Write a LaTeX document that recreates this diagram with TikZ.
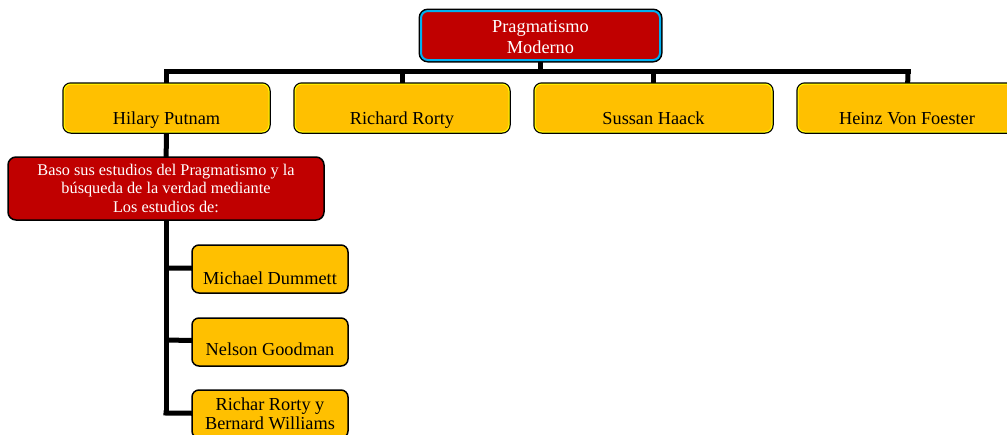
\documentclass[tikz,border=0pt]{standalone}
\usepackage{fontspec}
\setmainfont{Liberation Serif}
\usetikzlibrary{backgrounds}
\definecolor{boxorange}{HTML}{FFC000}
\definecolor{boxred}{HTML}{C00000}
\definecolor{boxcyan}{HTML}{00B0F0}
\definecolor{boxyellow}{HTML}{FFFF00}
\tikzset{
  topbox/.style={rectangle, rounded corners=7pt, fill=boxred, draw=boxcyan, line width=2pt,
    preaction={draw=black, line width=5pt}, inner sep=0pt},
  ybox/.style={rectangle, rounded corners=7pt, fill=boxorange, draw=boxyellow, line width=1pt,
    preaction={draw=black, line width=3.5pt}, inner sep=0pt, minimum height=48pt},
  rbox/.style={rectangle, rounded corners=8pt, fill=boxred, draw=black, line width=1.5pt, inner sep=0pt},
  obox/.style={rectangle, rounded corners=7pt, fill=boxorange, draw=black, line width=1.5pt, inner sep=0pt,
    minimum width=156pt, minimum height=48pt},
  big/.style={anchor=base, inner sep=0pt, font=\fontsize{18.3}{20}\selectfont},
  bigw/.style={big, text=white},
  small/.style={anchor=base, inner sep=0pt, text=white, font=\fontsize{16.3}{18}\selectfont},
  conn/.style={draw=black, line width=5pt},
}
\begin{document}
\begin{tikzpicture}[x=1pt,y=-1pt]
\useasboundingbox (0,0) rectangle (1007,434);
\begin{scope}
\clip (0,0) rectangle (1007,434);
\coordinate (busL) at (166.5,71.5);
\coordinate (busR) at (908,71.5);
\coordinate (busC) at (540.5,71.5);
\coordinate (busRR) at (402,71.5);
\coordinate (busSH) at (653.5,71.5);
\coordinate (vb1) at (166,268);
\coordinate (vb2) at (166,340);
\coordinate (vb3) at (166,413);

% boxes
\node[topbox, minimum width=239pt, minimum height=49pt] (pm) at (540.5,35.5) {};
\node[ybox, minimum width=205pt] (hp) at (166.5,108) {};
\node[ybox, minimum width=214pt] (rr) at (402,108) {};
\node[ybox, minimum width=237pt] (sh) at (653.5,108) {};
\node[ybox, minimum width=218pt] (hv) at (907,108) {};
\node[rbox, minimum width=316pt, minimum height=63pt] (bs) at (166,188.5) {};
\node[obox] (md) at (270,269) {};
\node[obox] (ng) at (270,342) {};
\node[obox] (rb) at (270,414) {};

% connectors behind the boxes
\begin{scope}[on background layer]
\draw[conn] (pm.center) -- (busC);
\draw[conn, line cap=rect] (busL) -- (busR);
\draw[conn] (busL) -- (hp.center);
\draw[conn] (busRR) -- (rr.center);
\draw[conn] (busSH) -- (sh.center);
\draw[conn] (busR) -- (hv.center);
\draw[conn] (hp.center) -- (bs.center);
\draw[conn] (bs.center) -- (vb3);
\draw[conn] (vb1) -- (md.center);
\draw[conn] (vb2) -- (ng.center);
\draw[conn, line cap=rect] (vb3) -- (rb.center);
\end{scope}

% texts
\node[bigw] (pmt1) at (540.5,32.3) {Pragmatismo};
\node[bigw] (pmt2) at (540.5,53.3) {Moderno};
\node[big] (hpt) at (166.5,124) {Hilary Putnam};
\node[big] (rrt) at (402,124) {Richard Rorty};
\node[big] (sht) at (653.5,124) {Sussan Haack};
\node[big] (hvt) at (907,124) {Heinz Von Foester};
\node[small] (bst1) at (166,175.7) {Baso sus estudios del Pragmatismo y la};
\node[small] (bst2) at (166,193.5) {búsqueda de la verdad mediante};
\node[small] (bst3) at (166,212.3) {Los estudios de:};
\node[big] (mdt) at (270,284) {Michael Dummett};
\node[big] (ngt) at (270,355) {Nelson Goodman};
\node[big] (rbt1) at (270,410) {Richar Rorty y};
\node[big] (rbt2) at (270,429) {Bernard Williams};
\end{scope}
\end{tikzpicture}
\end{document}
